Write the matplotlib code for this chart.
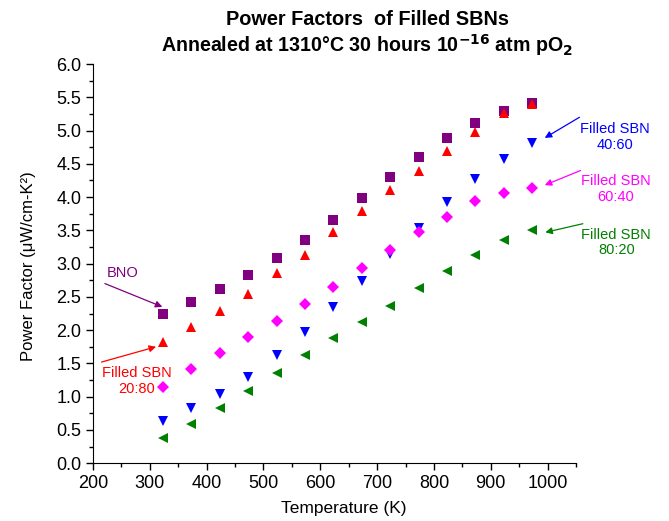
import matplotlib
matplotlib.use('Agg')
import matplotlib.pyplot as plt
from matplotlib.ticker import MultipleLocator

plt.rcParams['font.family'] = ['Liberation Sans', 'DejaVu Sans']

temperature = [323, 373, 423, 473, 523, 573, 623, 673, 723, 773, 823, 873, 923, 973]

pf_bno = [2.24, 2.42, 2.62, 2.83, 3.08, 3.36, 3.65, 3.99, 4.30, 4.60, 4.89, 5.12, 5.30, 5.41]
pf_sbn_20_80 = [1.82, 2.05, 2.29, 2.55, 2.86, 3.13, 3.47, 3.79, 4.11, 4.40, 4.69, 4.98, 5.26, 5.40]
pf_sbn_40_60 = [0.64, 0.83, 1.04, 1.30, 1.62, 1.97, 2.35, 2.74, 3.15, 3.54, 3.92, 4.27, 4.57, 4.82]
pf_sbn_60_40 = [1.14, 1.41, 1.65, 1.89, 2.14, 2.40, 2.65, 2.93, 3.21, 3.48, 3.70, 3.94, 4.06, 4.13]
pf_sbn_80_20 = [0.38, 0.59, 0.83, 1.08, 1.36, 1.63, 1.88, 2.12, 2.37, 2.63, 2.89, 3.13, 3.35, 3.51]

series = [
    (pf_bno, 's', '#800080'),
    (pf_sbn_20_80, '^', '#ff0000'),
    (pf_sbn_40_60, 'v', '#0000ff'),
    (pf_sbn_60_40, 'D', '#ff00ff'),
    (pf_sbn_80_20, '<', '#008000'),
]

# label text, text position, arrow tail, arrow head, colour
labels = [
    ('BNO', (252, 2.86), (221, 2.70), (322, 2.35), '#800080'),
    ('Filled SBN\n20:80', (277, 1.24), (215, 1.52), (311, 1.75), '#ff0000'),
    ('Filled SBN\n40:60', (1119, 4.90), (1056, 5.20), (995, 4.89), '#0000ff'),
    ('Filled SBN\n60:40', (1120, 4.12), (1058, 4.40), (995, 4.18), '#ff00ff'),
    ('Filled SBN\n80:20', (1121, 3.32), (1062, 3.60), (996, 3.47), '#008000'),
]

fig = plt.figure(figsize=(6.69, 5.21), dpi=100)
ax = fig.add_axes([0.139, 0.111, 0.722, 0.766])

for values, marker, color in series:
    ms = 6.5 if marker == 'D' else 7.5
    ax.plot(temperature, values, linestyle='none', marker=marker, color=color,
            markersize=ms, markeredgewidth=0)

for text, text_pos, tail, head, color in labels:
    ax.annotate('', xy=head, xytext=tail, annotation_clip=False,
                arrowprops=dict(arrowstyle='-|>', color=color, lw=0.9,
                                mutation_scale=10, shrinkA=0, shrinkB=0))
    ax.text(text_pos[0], text_pos[1], text, color=color, fontsize=10.5,
            ha='center', va='center', linespacing=1.15, clip_on=False)

ax.set_xlim(200, 1050)
ax.set_ylim(0, 6)
ax.xaxis.set_major_locator(MultipleLocator(100))
ax.xaxis.set_minor_locator(MultipleLocator(50))
ax.yaxis.set_major_locator(MultipleLocator(0.5))
ax.yaxis.set_minor_locator(MultipleLocator(0.25))
ax.yaxis.set_major_formatter(plt.FormatStrFormatter('%.1f'))
ax.spines['top'].set_visible(False)
ax.spines['right'].set_visible(False)
ax.tick_params(which='major', direction='out', length=5, width=1, labelsize=13)
ax.tick_params(which='minor', direction='out', length=3, width=1)

ax.set_xlabel('Temperature (K)', fontsize=12.5)
ax.xaxis.set_label_coords(0.52, -0.095)
ax.set_ylabel('Power Factor (\u03bcW/cm-K\u00b2)', fontsize=12)
ax.yaxis.set_label_coords(-0.118, 0.494)

fig.text(0.549, 0.9635, 'Power Factors  of Filled SBNs', ha='center', va='center',
         fontsize=14.3, fontweight='bold')
fig.text(0.549, 0.914, 'Annealed at 1310\u00b0C 30 hours 10$^{\\mathbf{-16}}$ atm pO$_{\\mathbf{2}}$',
         ha='center', va='center', fontsize=14.1, fontweight='bold')

fig.savefig('out.png', dpi=100)
